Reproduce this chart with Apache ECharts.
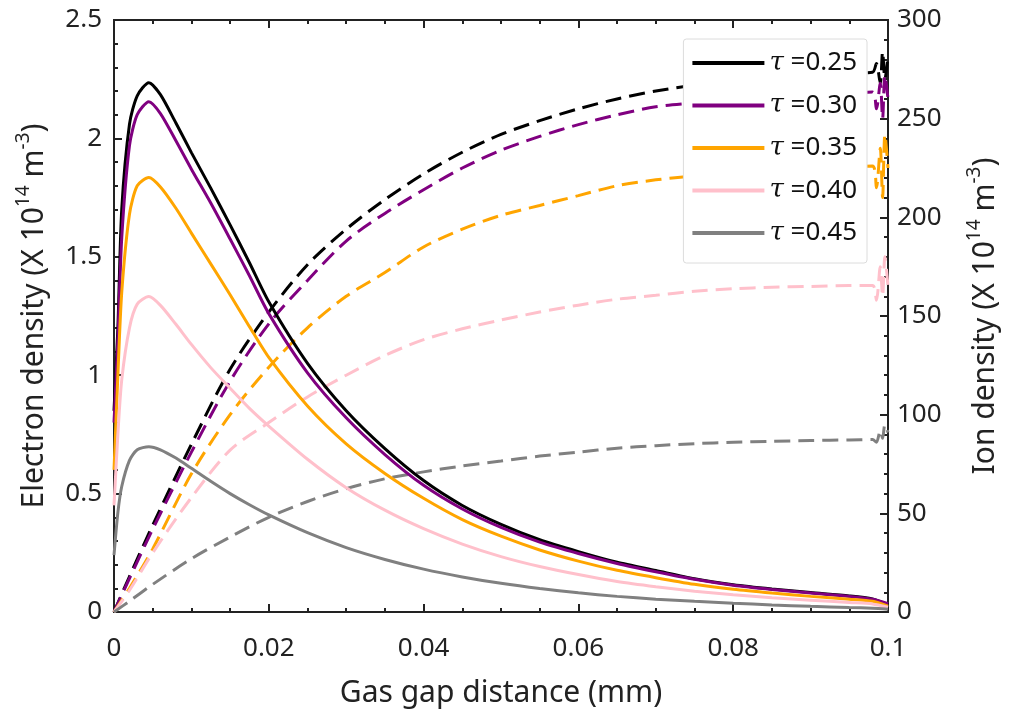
<!DOCTYPE html>
<html>
<head>
<meta charset="utf-8">
<script src="https://cdn.jsdelivr.net/npm/echarts@6/dist/echarts.min.js"></script>
<style>
  html, body { margin: 0; padding: 0; background: #fff; }
  #chart { width: 1009px; height: 711px; }
</style>
</head>
<body>
<div id="chart"></div>
<script>
// gap distance (mm) for the electron density curves
const xElec = [0, 0.0005, 0.001, 0.002, 0.003, 0.0045, 0.006, 0.008, 0.01, 0.0125, 0.015, 0.0175, 0.02,
  0.025, 0.03, 0.035, 0.04, 0.045, 0.05, 0.055, 0.06, 0.065, 0.07, 0.075, 0.08, 0.085, 0.09, 0.095, 0.098, 0.1];

// electron density (x1e14 m^-3)
const elec025 = [0.85, 1.2, 1.7, 2.06, 2.18, 2.235, 2.185, 2.065, 1.94, 1.79, 1.635, 1.475, 1.31,
  1.05, 0.85, 0.69, 0.555, 0.45, 0.37, 0.305, 0.255, 0.21, 0.175, 0.14, 0.115, 0.097, 0.082, 0.068, 0.055, 0.03];
const elec030 = [0.8, 1.15, 1.58, 1.97, 2.10, 2.155, 2.105, 1.99, 1.87, 1.727, 1.575, 1.42, 1.26,
  1.01, 0.82, 0.665, 0.535, 0.435, 0.357, 0.295, 0.247, 0.205, 0.17, 0.138, 0.113, 0.095, 0.08, 0.066, 0.054, 0.035];
const elec035 = [0.6, 1.0, 1.35, 1.68, 1.80, 1.835, 1.795, 1.705, 1.6, 1.47, 1.34, 1.205, 1.075,
  0.87, 0.71, 0.585, 0.48, 0.39, 0.32, 0.262, 0.215, 0.176, 0.145, 0.117, 0.096, 0.08, 0.066, 0.054, 0.045, 0.025];
const elec040 = [0.45, 0.75, 0.98, 1.2, 1.30, 1.332, 1.295, 1.215, 1.13, 1.032, 0.945, 0.86, 0.785,
  0.645, 0.525, 0.43, 0.352, 0.287, 0.234, 0.192, 0.158, 0.129, 0.107, 0.088, 0.073, 0.06, 0.05, 0.04, 0.034, 0.02];
const elec045 = [0.24, 0.42, 0.53, 0.64, 0.685, 0.698, 0.685, 0.65, 0.607, 0.552, 0.5, 0.453, 0.41,
  0.335, 0.272, 0.222, 0.181, 0.148, 0.121, 0.099, 0.081, 0.066, 0.054, 0.045, 0.037, 0.03, 0.024, 0.019, 0.016, 0.012];

// gap distance (mm) for the ion density curves (noisy tail at the anode)
const xIon = [0, 0.002, 0.005, 0.01, 0.015, 0.02, 0.025, 0.03, 0.035, 0.04, 0.045, 0.05, 0.055, 0.06,
  0.065, 0.07, 0.075, 0.08, 0.085, 0.09, 0.095, 0.098, 0.0985, 0.099, 0.0993, 0.0996, 0.1];

// ion density (x1e14 m^-3)
const ion025 = [0, 18, 44, 85, 123, 152, 176, 194, 209, 222, 233, 242, 249, 255,
  260, 264, 267, 269, 271, 272, 273, 273.5, 278, 268, 284, 270, 282];
const ion030 = [0, 17, 42, 81, 117, 146, 168, 188, 202, 214, 225, 234, 241, 247,
  252, 256, 258, 260, 261.5, 262.5, 263, 263.5, 255, 268, 250, 272, 260];
const ion035 = [0, 12, 32, 70, 100, 124, 144, 160, 172, 185, 194, 201, 206, 211,
  216, 219, 221, 222.5, 224, 225, 225.5, 226, 215, 235, 210, 242, 225];
const ion040 = [0, 11, 30, 58, 82, 96, 109, 120, 130, 138, 143.5, 148, 152, 155.5,
  158.5, 160.5, 162.5, 163.8, 164.6, 165, 165.4, 165.5, 158, 175, 160, 180, 165];
const ion045 = [0, 5.5, 14, 27, 38, 48, 56, 62.5, 67.5, 71, 74, 76.5, 79, 81,
  83, 84.3, 85.3, 86, 86.5, 86.9, 87.2, 87.4, 86, 92, 88, 95, 91];

const tauNames = ['τ =0.25', 'τ =0.30', 'τ =0.35', 'τ =0.40', 'τ =0.45'];
const colors = ['#000000', '#800080', '#ffa500', '#ffc0cb', '#808080'];

const xTicks = { min: 0, max: 0.1, interval: 0.02 };
const yLeftTicks = { min: 0, max: 2.5, interval: 0.5 };
const yRightTicks = { min: 0, max: 300, interval: 50 };

const FONT = 'Noto Sans';
const AXIS_COLOR = '#222';

const elecSets = [elec025, elec030, elec035, elec040, elec045];
const ionSets = [ion025, ion030, ion035, ion040, ion045];

const pair = (xs, ys) => xs.map((x, i) => [x, ys[i]]);

// Tick-only axes share their scale with the labelled ones, but ECharts only
// places an axis on its side when a series uses it, so the series are spread
// across them: x axes 0-4 are all 0..0.1, y axes 0-2 are 0..2.5, 3-5 are 0..300.
const elecY = [0, 1, 2, 0, 1];
const ionY = [3, 4, 5, 3, 4];

const series = [];
tauNames.forEach((name, i) => {
  series.push({
    name: name,
    type: 'line',
    xAxisIndex: i,
    yAxisIndex: elecY[i],
    data: pair(xElec, elecSets[i]),
    smooth: 0.25,
    symbol: 'none',
    lineStyle: { color: colors[i], width: 3 },
    itemStyle: { color: colors[i] },
    z: 3
  });
  series.push({
    name: name + ' ion',
    type: 'line',
    xAxisIndex: i,
    yAxisIndex: ionY[i],
    data: pair(xIon, ionSets[i]),
    smooth: 0.3,
    symbol: 'none',
    lineStyle: { color: colors[i], width: 3, type: [16, 8] },
    itemStyle: { color: colors[i] },
    z: 2
  });
});

const tickLabel = { fontFamily: FONT, fontSize: 26, color: '#222' };
const titleStyle = () => ({
  fontFamily: FONT, fontSize: 30, lineHeight: 40, color: '#222',
  rich: { s: { fontFamily: FONT, fontSize: 19, lineHeight: 20, verticalAlign: 'top', color: '#222' } }
});

// inward ticks: outward ticks of an axis shifted into the plot, ending on the frame
const tickAxis = (pos, range, len, minorSplit) => ({
  type: 'value',
  position: pos,
  offset: -len,
  ...range,
  axisLine: { show: false, onZero: false },
  axisLabel: { show: false },
  splitLine: { show: false },
  axisTick: { show: true, inside: false, length: len, lineStyle: { color: AXIS_COLOR, width: 2 } },
  minorTick: { show: !!minorSplit, splitNumber: minorSplit || 5, length: len, lineStyle: { color: AXIS_COLOR, width: 2 } }
});

const option = {
  animation: false,
  backgroundColor: '#fff',
  grid: {
    left: 114, right: 121, top: 20, bottom: 99,
    containLabel: false, outerBoundsMode: 'none',
    show: true, borderColor: AXIS_COLOR, borderWidth: 2, backgroundColor: 'transparent'
  },
  legend: {
    data: tauNames,
    orient: 'vertical',
    right: 142,
    top: 39,
    padding: [10, 10, 16, 7],
    itemWidth: 72,
    itemHeight: 4,
    itemGap: 14.5,
    backgroundColor: '#fff',
    borderColor: '#dcdcdc',
    borderWidth: 1,
    borderRadius: 3,
    lineStyle: { width: 4 },
    formatter: (name) => '{i|τ}' + name.slice(1),
    textStyle: {
      fontFamily: FONT,
      fontSize: 26,
      lineHeight: 28,
      color: '#111',
      rich: {
        i: { fontFamily: 'DejaVu Serif', fontStyle: 'italic', fontSize: 26, lineHeight: 28, color: '#111' }
      }
    }
  },
  xAxis: [
    {
      type: 'value',
      position: 'bottom',
      ...xTicks,
      name: 'Gas gap distance (mm)',
      nameLocation: 'middle',
      nameGap: 61,
      nameTextStyle: titleStyle(),
      axisLine: { show: false, onZero: false },
      axisTick: { show: false },
      axisLabel: { ...tickLabel, margin: 24, formatter: (v) => String(+v.toFixed(3)) },
      splitLine: { show: false }
    },
    tickAxis('bottom', xTicks, 8, 0),
    tickAxis('bottom', xTicks, 4, 4),
    tickAxis('top', xTicks, 8, 0),
    tickAxis('top', xTicks, 4, 4)
  ],
  yAxis: [
    {
      type: 'value',
      position: 'left',
      ...yLeftTicks,
      name: 'Electron density (X 10{s|14} m{s|-3})',
      nameLocation: 'middle',
      nameRotate: 90,
      nameGap: 52,
      nameTextStyle: titleStyle(),
      axisLine: { show: false, onZero: false },
      axisTick: { show: false },
      axisLabel: { ...tickLabel, margin: 12 },
      splitLine: { show: false }
    },
    tickAxis('left', yLeftTicks, 8, 0),
    tickAxis('left', yLeftTicks, 4, 5),
    {
      type: 'value',
      position: 'right',
      ...yRightTicks,
      name: 'Ion density (X 10{s|14} m{s|-3})',
      nameLocation: 'middle',
      nameRotate: 90,
      nameGap: 77,
      nameTextStyle: titleStyle(),
      axisLine: { show: false, onZero: false },
      axisTick: { show: false },
      axisLabel: { ...tickLabel, margin: 9 },
      splitLine: { show: false }
    },
    tickAxis('right', yRightTicks, 8, 0),
    tickAxis('right', yRightTicks, 4, 5)
  ],
  series: series
};

const chart = echarts.init(document.getElementById('chart'));
chart.setOption(option);
</script>
</body>
</html>
